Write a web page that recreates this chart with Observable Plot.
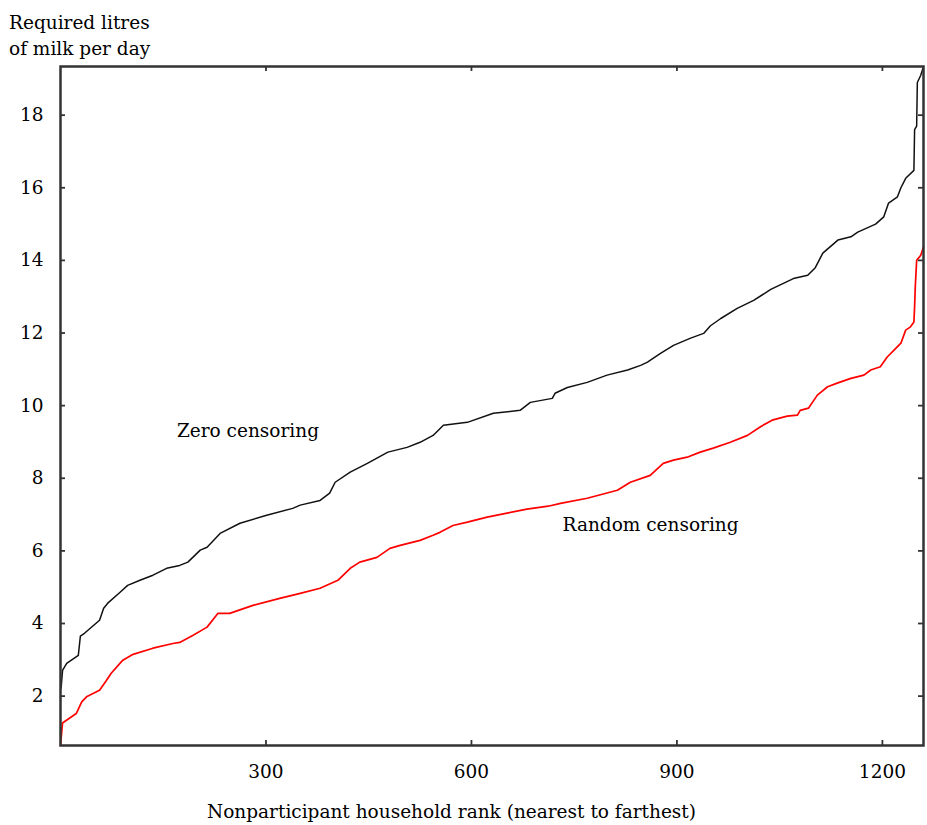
<!DOCTYPE html>
<html>
<head>
<meta charset="utf-8">
<script src="https://cdn.jsdelivr.net/npm/d3@7"></script>
<script src="https://cdn.jsdelivr.net/npm/@observablehq/plot@0.6"></script>
<style>
  html, body { margin: 0; padding: 0; background: #fff; }
  #wrap { position: relative; width: 927px; height: 825px; font-family: "DejaVu Serif", serif; color: #000; }
  #ytitle { position: absolute; left: 9px; top: 10px; font-size: 18.5px; line-height: 26px; white-space: nowrap; }
  #xtitle { position: absolute; left: 207px; top: 799px; font-size: 18.5px; line-height: 26px; white-space: nowrap; }
  #chart { position: absolute; left: 0; top: 0; }
</style>
</head>
<body>
<div id="wrap">
  <div id="chart"></div>
  <div id="ytitle">Required litres<br>of milk per day</div>
  <div id="xtitle">Nonparticipant household rank (nearest to farthest)</div>
</div>
<script>
// Zero censoring series (household rank, litres/day)
const zeroRank = [0, 1, 3, 9, 26, 29, 35, 57, 63, 69, 87, 98, 116, 135, 155, 174, 186, 204, 214, 233, 262, 301, 339, 350, 379, 393, 401, 423, 448, 478, 506, 525, 544, 559, 594, 632, 671, 686, 718, 722, 740, 769, 798, 828, 847, 857, 876, 895, 920, 939, 949, 964, 988, 1012, 1037, 1070, 1091, 1102, 1113, 1135, 1154, 1164, 1190, 1202, 1209, 1222, 1227, 1234, 1246, 1247, 1250, 1251, 1256, 1260];
const zeroValue = [2.2, 2.25, 2.71, 2.9, 3.12, 3.65, 3.73, 4.09, 4.42, 4.56, 4.86, 5.05, 5.19, 5.33, 5.52, 5.6, 5.69, 6.02, 6.1, 6.48, 6.76, 6.98, 7.17, 7.26, 7.39, 7.59, 7.89, 8.17, 8.41, 8.72, 8.85, 8.99, 9.18, 9.46, 9.54, 9.79, 9.87, 10.09, 10.2, 10.34, 10.5, 10.64, 10.84, 10.98, 11.11, 11.2, 11.44, 11.66, 11.86, 11.99, 12.2, 12.4, 12.68, 12.9, 13.2, 13.5, 13.59, 13.8, 14.2, 14.56, 14.65, 14.78, 15.0, 15.2, 15.58, 15.75, 16.0, 16.26, 16.48, 17.6, 17.7, 18.9, 19.1, 19.34];

// Random censoring series
const randomRank = [0, 3, 13, 23, 31, 38, 57, 67, 74, 91, 106, 135, 164, 174, 193, 214, 230, 247, 281, 320, 350, 379, 405, 423, 437, 462, 481, 496, 525, 544, 554, 573, 594, 623, 652, 681, 712, 730, 769, 813, 832, 861, 880, 895, 915, 934, 953, 978, 1003, 1022, 1039, 1061, 1076, 1080, 1092, 1105, 1120, 1134, 1154, 1173, 1183, 1197, 1207, 1217, 1227, 1234, 1241, 1246, 1247, 1248, 1250, 1256, 1260];
const randomValue = [0.64, 1.26, 1.39, 1.52, 1.84, 1.98, 2.16, 2.43, 2.63, 2.99, 3.15, 3.32, 3.45, 3.48, 3.67, 3.9, 4.28, 4.28, 4.5, 4.69, 4.83, 4.97, 5.19, 5.52, 5.69, 5.82, 6.07, 6.15, 6.29, 6.43, 6.51, 6.7, 6.79, 6.93, 7.04, 7.15, 7.23, 7.31, 7.45, 7.67, 7.89, 8.08, 8.41, 8.5, 8.58, 8.72, 8.83, 8.99, 9.18, 9.42, 9.6, 9.71, 9.74, 9.87, 9.93, 10.29, 10.52, 10.62, 10.75, 10.84, 10.98, 11.07, 11.34, 11.53, 11.72, 12.08, 12.17, 12.3, 12.72, 13.27, 14.0, 14.14, 14.37];

// Axis ticks and domains
const xTicks = [300, 600, 900, 1200];
const yTicks = [2, 4, 6, 8, 10, 12, 14, 16, 18];
const xDomain = [0, 1260];
const yDomain = [0.64, 19.34];

// Series labels
const seriesLabels = ["Zero censoring", "Random censoring"];
const labelRank = [170, 733];
const labelValue = [9.29, 6.7];

const zeroData = zeroRank.map((r, i) => ({rank: r, value: zeroValue[i]}));
const randomData = randomRank.map((r, i) => ({rank: r, value: randomValue[i]}));
const labelData = seriesLabels.map((t, i) => ({text: t, rank: labelRank[i], value: labelValue[i]}));

const W = 927, H = 825, mL = 60, mR = 4, mT = 66, mB = 80;
const frameW = W - mL - mR, frameH = H - mT - mB;
const tick = 5;

const chart = Plot.plot({
  width: W,
  height: H,
  marginLeft: mL,
  marginRight: mR,
  marginTop: mT,
  marginBottom: mB,
  style: {fontFamily: "DejaVu Serif", fontSize: "18.5px", color: "#000", background: "#fff"},
  x: {domain: xDomain},
  y: {domain: yDomain},
  marks: [
    Plot.line(zeroData, {x: "rank", y: "value", stroke: "#111", strokeWidth: 1.5}),
    Plot.line(randomData, {x: "rank", y: "value", stroke: "#ff0000", strokeWidth: 1.7}),
    Plot.text(labelData, {x: "rank", y: "value", text: "text", textAnchor: "start", fill: "#000", fontSize: 18.5}),
    Plot.ruleX(xTicks, {insetTop: frameH - tick, stroke: "#333", strokeWidth: 1.8}),
    Plot.ruleX(xTicks, {insetBottom: frameH - tick, stroke: "#333", strokeWidth: 1.8}),
    Plot.ruleY(yTicks, {insetRight: frameW - tick, stroke: "#333", strokeWidth: 1.8}),
    Plot.ruleY(yTicks, {insetLeft: frameW - tick, stroke: "#333", strokeWidth: 1.8}),
    Plot.axisX({ticks: xTicks, tickSize: 0, tickPadding: 19, label: null, fill: "#000", tickFormat: d => String(d)}),
    Plot.axisY({ticks: yTicks, tickSize: 0, tickPadding: 17, label: null, fill: "#000", tickFormat: d => String(d)}),
    Plot.frame({stroke: "#333", strokeWidth: 2.5})
  ]
});
document.getElementById("chart").appendChild(chart);
</script>
</body>
</html>
